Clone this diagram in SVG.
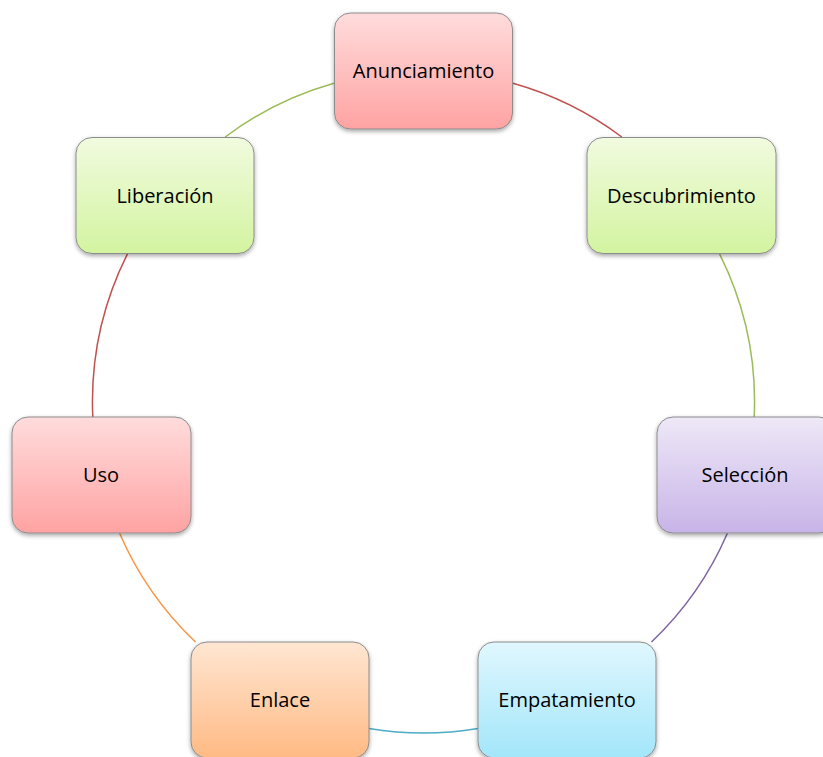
<svg xmlns="http://www.w3.org/2000/svg" width="823" height="757" viewBox="0 0 823 757">
<defs>
<linearGradient id="gRed" x1="0" y1="0" x2="0" y2="1"><stop offset="0" stop-color="#FFDCDC"/><stop offset="1" stop-color="#FFA3A3"/></linearGradient>
<linearGradient id="gGreen" x1="0" y1="0" x2="0" y2="1"><stop offset="0" stop-color="#F1FBDF"/><stop offset="1" stop-color="#D3F4A0"/></linearGradient>
<linearGradient id="gPurple" x1="0" y1="0" x2="0" y2="1"><stop offset="0" stop-color="#EEE8F7"/><stop offset="1" stop-color="#C8B4E8"/></linearGradient>
<linearGradient id="gBlue" x1="0" y1="0" x2="0" y2="1"><stop offset="0" stop-color="#E0F7FE"/><stop offset="1" stop-color="#A3E6FA"/></linearGradient>
<linearGradient id="gOrange" x1="0" y1="0" x2="0" y2="1"><stop offset="0" stop-color="#FFE6D2"/><stop offset="1" stop-color="#FFBA84"/></linearGradient>
<filter id="sh" x="-10%" y="-10%" width="120%" height="130%"><feDropShadow dx="0" dy="2" stdDeviation="2" flood-color="#000" flood-opacity="0.35"/></filter>
</defs>
<style>
.box{stroke:#8C8C8C;stroke-width:1;filter:url(#sh)}
.lbl{font-family:"Open Sans","Liberation Sans",sans-serif;font-size:20px;fill:#000;text-anchor:middle}
.arc{fill:none;stroke-width:1.5}
</style>
<rect width="823" height="757" fill="#fff"/>
<g id="connectors">
<path class="arc" stroke="#C0504D" d="M513,83.3 A331,331 0 0 1 621.8,137"/>
<path class="arc" stroke="#9BBB59" d="M719.1,253 A331,331 0 0 1 754.2,417"/>
<path class="arc" stroke="#8064A2" d="M727.5,533 A331,331 0 0 1 651.5,642"/>
<path class="arc" stroke="#4BACC6" d="M478,728.5 A331,331 0 0 1 369,728.5"/>
<path class="arc" stroke="#F79646" d="M195.5,642 A331,331 0 0 1 119.5,533"/>
<path class="arc" stroke="#C0504D" d="M92.8,417 A331,331 0 0 1 127.9,253"/>
<path class="arc" stroke="#9BBB59" d="M225.2,137 A331,331 0 0 1 334,83.3"/>
</g>
<g id="n1"><rect class="box" x="334.5" y="13" width="178" height="116" rx="16" fill="url(#gRed)"/><text class="lbl" x="423.5" y="78">Anunciamiento</text></g>
<g id="n2"><rect class="box" x="587" y="137.5" width="189" height="116" rx="16" fill="url(#gGreen)"/><text class="lbl" x="681.5" y="202.5">Descubrimiento</text></g>
<g id="n3"><rect class="box" x="657" y="417" width="178" height="116" rx="16" fill="url(#gPurple)"/><text class="lbl" x="745" y="482">Selección</text></g>
<g id="n4"><rect class="box" x="478" y="642" width="178" height="116" rx="16" fill="url(#gBlue)"/><text class="lbl" x="567" y="707">Empatamiento</text></g>
<g id="n5"><rect class="box" x="191" y="642" width="178" height="116" rx="16" fill="url(#gOrange)"/><text class="lbl" x="280" y="707">Enlace</text></g>
<g id="n6"><rect class="box" x="12" y="417" width="179" height="116" rx="16" fill="url(#gRed)"/><text class="lbl" x="101" y="482">Uso</text></g>
<g id="n7"><rect class="box" x="76" y="137.5" width="178" height="116" rx="16" fill="url(#gGreen)"/><text class="lbl" x="165" y="202.5">Liberación</text></g>
</svg>
